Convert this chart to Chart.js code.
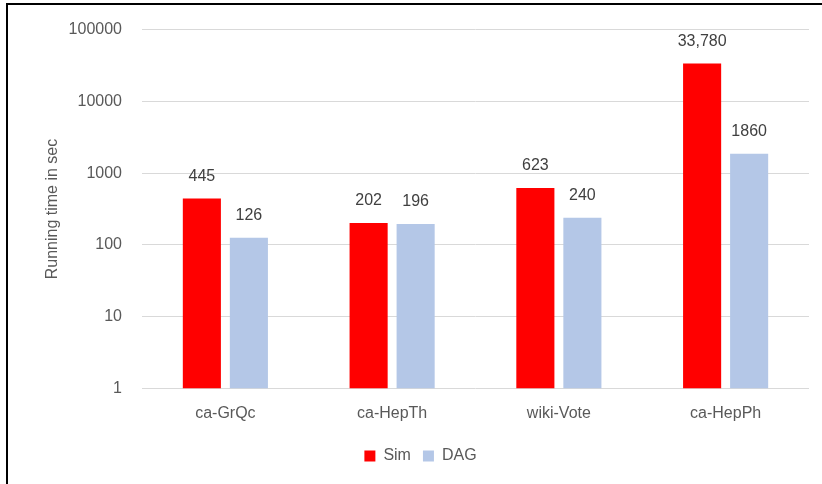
<!DOCTYPE html>
<html>
<head>
<meta charset="utf-8">
<script src="https://cdn.jsdelivr.net/npm/chart.js@4.4.1/dist/chart.umd.min.js"></script>
<style>
  html, body { margin: 0; padding: 0; background: #fff; overflow: hidden; }
  #frame {
    position: absolute; left: 6px; top: 3px; width: 830px; height: 500px;
    border-left: 2px solid #000; border-top: 2px solid #000; box-sizing: border-box;
  }
  #wrap { position: absolute; left: 0; top: 0; width: 822px; height: 484px; }
</style>
</head>
<body>
<div id="frame"></div>
<div id="wrap"><canvas id="chart" width="822" height="484"></canvas></div>
<script>
// Running time per network graph (seconds, log scale)
const categories = ['ca-GrQc', 'ca-HepTh', 'wiki-Vote', 'ca-HepPh'];
const simTimes = [445, 202, 623, 33780];
const dagTimes = [126, 196, 240, 1860];
const yTicks = [1, 10, 100, 1000, 10000, 100000];

const FONT = '"Liberation Sans", Arial, sans-serif';

// Value labels above the bars; the Sim series uses a thousands separator
const valueLabels = {
  id: 'valueLabels',
  afterDatasetsDraw(chart) {
    const ctx = chart.ctx;
    ctx.save();
    ctx.font = '16px ' + FONT;
    ctx.fillStyle = '#404040';
    ctx.textAlign = 'center';
    ctx.textBaseline = 'middle';
    chart.data.datasets.forEach((ds, i) => {
      chart.getDatasetMeta(i).data.forEach((bar, j) => {
        const v = ds.data[j];
        const txt = ds.thousandsSep ? v.toLocaleString('en-US') : String(v);
        ctx.fillText(txt, bar.x, bar.y - 22);
      });
    });
    ctx.restore();
  }
};

// Nudge the legend so it sits a little right of the canvas centre
const legendShift = {
  id: 'legendShift',
  afterLayout(chart) {
    if (chart.legend) {
      chart.legend.left += 16;
      chart.legend.right += 16;
    }
  }
};

new Chart(document.getElementById('chart'), {
  type: 'bar',
  data: {
    labels: categories,
    datasets: [
      { label: 'Sim', data: simTimes, backgroundColor: '#FF0000', thousandsSep: true },
      { label: 'DAG', data: dagTimes, backgroundColor: '#B4C7E7', thousandsSep: false }
    ]
  },
  options: {
    responsive: false,
    animation: false,
    categoryPercentage: 0.564,
    barPercentage: 0.81,
    layout: { padding: { left: 0, right: 13, top: 27, bottom: 10 } },
    plugins: {
      tooltip: { enabled: false },
      legend: {
        position: 'bottom',
        labels: {
          boxWidth: 11, boxHeight: 11, padding: 12,
          color: '#595959', font: { family: FONT, size: 16 }
        }
      }
    },
    scales: {
      x: {
        grid: { display: false },
        border: { display: false },
        ticks: { color: '#595959', font: { family: FONT, size: 16 }, padding: 7.5 },
        afterFit(s) { s.height = 47.5; }
      },
      y: {
        type: 'logarithmic',
        min: 1, max: 100000,
        grid: { color: '#D9D9D9', lineWidth: 1, drawTicks: false },
        border: { display: false },
        afterBuildTicks(s) { s.ticks = yTicks.map(v => ({ value: v })); },
        ticks: {
          color: '#595959', font: { family: FONT, size: 16 }, padding: 20,
          callback: v => String(v)
        },
        title: {
          display: true, text: 'Running time in sec', color: '#595959',
          font: { family: FONT, size: 16 }, padding: { top: 43, bottom: 0 }
        },
        afterFit(s) { s.width = 142; }
      }
    }
  },
  plugins: [valueLabels, legendShift]
});
</script>
</body>
</html>
